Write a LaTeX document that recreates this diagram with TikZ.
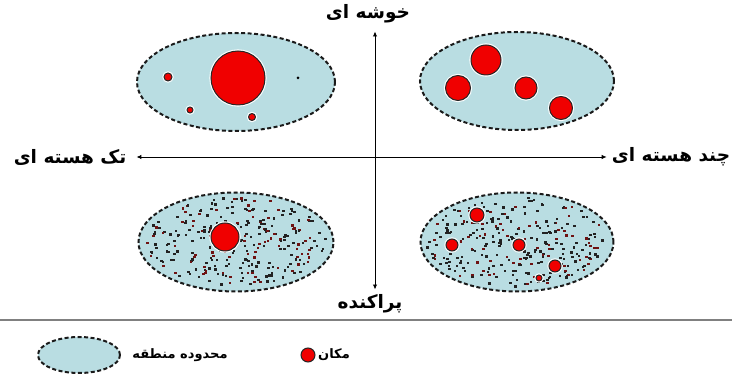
\documentclass[tikz,border=0pt]{standalone}
\usepackage{fontspec}
\newfontfamily\persianfont[Script=Arabic]{DejaVu Sans}
\TeXXeTstate=1
\usetikzlibrary{shapes.geometric,arrows.meta}

\begin{document}
\begin{tikzpicture}[x=1pt,y=-1pt,
    region/.style={ellipse, draw=borderColour, fill=regionColour, line width=2pt,
        dash pattern=on 4pt off 2.5pt, inner sep=0pt},
    place/.style={circle, fill=placeColour, draw=black!85, line width=1pt, inner sep=0pt,
        preaction={draw=white, line width=3.2pt}},
    axislabel/.style={font=\persianfont\bfseries\fontsize{18.5}{21}\selectfont, inner sep=2pt},
    legendlabel/.style={font=\persianfont\bfseries\fontsize{13}{15}\selectfont, inner sep=2pt},
    axis/.style={line width=0.9pt, {Latex[length=5pt,width=4.5pt]}-{Latex[length=5pt,width=4.5pt]}}]
    % Define colours
    \definecolor{borderColour}{HTML}{1A1A1A}
    \definecolor{regionColour}{HTML}{B9DDE2}
    \definecolor{placeColour}{HTML}{F00000}
    \definecolor{dotDark}{HTML}{222222}
    \definecolor{dotRed}{HTML}{6E1212}

    % Fix the canvas
    \useasboundingbox (0,0) rectangle (732,379);

    % Draw the four regions
    \node[region, minimum width=198, minimum height=98] (clusterSingle) at (236,82) {};
    \node[region, minimum width=194, minimum height=98] (clusterMulti) at (517,81) {};
    \node[region, minimum width=195, minimum height=99] (scatterSingle) at (236,242) {};
    \node[region, minimum width=193, minimum height=99] (scatterMulti) at (517,242) {};

    % Scatter small dots in the lower regions
    \pgfmathsetseed{4242}
    \foreach \cx/\cy in {236/242, 517/242} {
        \foreach \i in {1,...,290} {
            \pgfmathsetmacro\ang{360*rnd}
            \pgfmathsetmacro\rad{0.95*sqrt(rnd)}
            \pgfmathtruncatemacro\tone{rnd<0.3 ? 1 : 0}
            \ifnum\tone=1 \def\dotc{dotRed}\else\def\dotc{dotDark}\fi
            \fill[\dotc] ({\cx+95*\rad*cos(\ang)-1.3},{\cy+47*\rad*sin(\ang)-1.1}) rectangle ++(2.6,2.2);
        }
    }

    % Places, top left (one core, clustered)
    \node[place, minimum size=54] (tlA) at (238,78) {};
    \node[place, minimum size=8] (tlB) at (168,77) {};
    \node[place, minimum size=6] (tlC) at (190,110) {};
    \node[place, minimum size=7] (tlD) at (252,117) {};
    \node[circle, fill=black, inner sep=0pt, minimum size=3] (tlE) at (298,78) {};

    % Places, top right (several cores, clustered)
    \node[place, minimum size=30] (trA) at (486,60) {};
    \node[place, minimum size=25] (trB) at (458,88) {};
    \node[place, minimum size=22] (trC) at (526,88) {};
    \node[place, minimum size=23] (trD) at (561,108) {};

    % Places, bottom left (one core, scattered)
    \node[place, minimum size=28] (blA) at (225,237) {};

    % Places, bottom right (several cores, scattered)
    \node[place, minimum size=14] (brA) at (477,215) {};
    \node[place, minimum size=12] (brB) at (452,245) {};
    \node[place, minimum size=12] (brC) at (519,245) {};
    \node[place, minimum size=12] (brD) at (555,266) {};
    \node[place, minimum size=6] (brE) at (539,278) {};

    % Axis labels
    \node[axislabel] (cluster) at (368,14) {\beginR خوشه ای\endR};
    \node[axislabel] (scatter) at (370,304) {\beginR پراکنده\endR};
    \node[axislabel] (single) at (70,157) {\beginR تک هسته ای\endR};
    \node[axislabel] (multi) at (671,157) {\beginR چند هسته ای\endR};

    % Draw the axes
    \draw[axis, shorten <=8pt, shorten >=3pt] (single) -- (multi);
    \draw[axis, shorten <=6pt, shorten >=3pt] (cluster.south -| 375,0) -- (scatter.north -| 375,0);

    % Legend
    \draw[gray, line width=1.5pt] (0,320) -- (732,320);
    \node[region, minimum width=82, minimum height=36] (legendRegion) at (79,355) {};
    \node[legendlabel] (regionText) at (180,355) {\beginR محدوده منطقه\endR};
    \node[place, minimum size=14] (legendPlace) at (308,355) {};
    \node[legendlabel] (placeText) at (334,355) {\beginR مکان\endR};

\end{tikzpicture}
\end{document}
